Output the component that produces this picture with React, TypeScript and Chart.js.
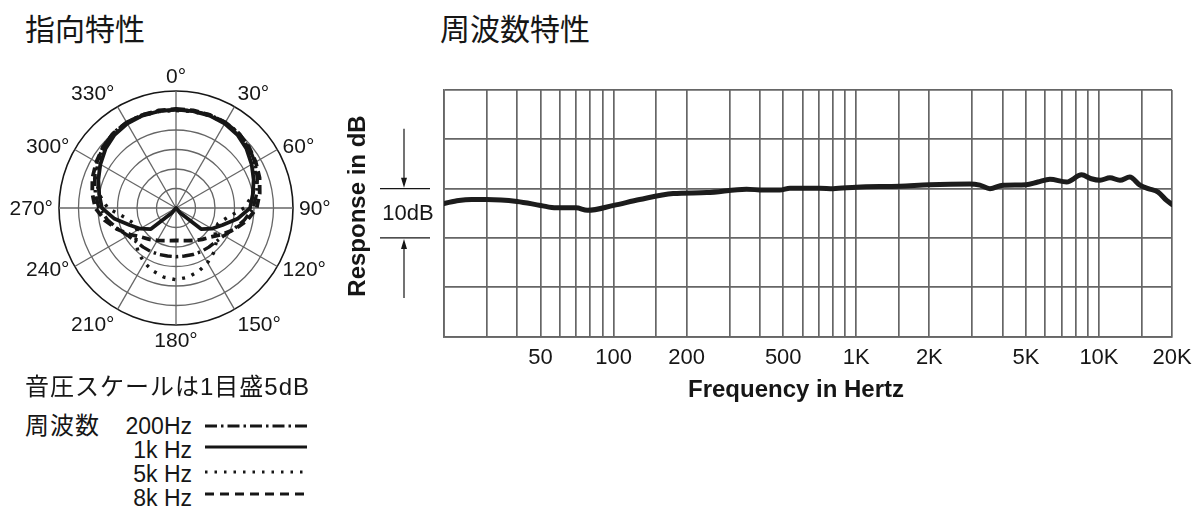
import React, { useEffect, useRef } from 'react';
import { Chart, registerables } from 'chart.js';

Chart.register(...registerables);

// ---------- Polar pattern data (radius in dB above the plot centre, 5 dB per ring) ----------
const polarAngles = [0, 10, 20, 30, 40, 50, 60, 70, 80, 90, 100, 110, 120, 130, 140, 150, 160, 170,
  180, 190, 200, 210, 220, 230, 240, 250, 260, 270, 280, 290, 300, 310, 320, 330, 340, 350];
const polarLabelAngles = [0, 30, 60, 90, 120, 150, 180, 210, 240, 270, 300, 330];

const polar1kHz = [25.2, 25.2, 25.2, 25.0, 24.5, 23.6, 22.4, 21.2, 20.0, 19.0, 16.0, 12.7, 10.6, 8.4, 1.6, 0, 0, 0,
  0, 0, 0, 0, 1.6, 8.4, 10.6, 12.7, 16.0, 19.0, 20.0, 21.2, 22.4, 23.6, 24.5, 25.0, 25.2, 25.2];
const polar8kHz = [25.4, 25.4, 25.4, 25.3, 25.0, 24.4, 23.6, 22.8, 21.8, 20.7, 18.5, 16.0, 13.6, 11.6, 10.5, 9.6, 8.9, 8.5,
  8.3, 8.5, 8.9, 9.6, 10.5, 11.6, 13.6, 16.0, 18.5, 20.7, 21.8, 22.8, 23.6, 24.4, 25.0, 25.3, 25.4, 25.4];
const polar200Hz = [25.2, 25.3, 25.4, 25.4, 25.1, 24.4, 23.4, 22.2, 21.0, 19.8, 17.8, 15.8, 14.2, 13.4, 13.1, 12.9, 12.7, 12.5,
  12.5, 12.5, 12.7, 12.9, 13.1, 13.4, 14.2, 15.8, 17.8, 19.8, 21.0, 22.2, 23.4, 24.4, 25.1, 25.4, 25.4, 25.3];
const polar5kHz = [25.0, 25.1, 25.2, 25.2, 24.9, 24.2, 23.2, 21.8, 20.0, 17.5, 13.5, 11.5, 11.5, 13.5, 15.0, 16.2, 17.2, 18.0,
  18.4, 18.0, 17.2, 16.2, 15.0, 13.5, 11.5, 11.5, 13.5, 17.5, 20.0, 21.8, 23.2, 24.2, 24.9, 25.2, 25.2, 25.1];

// ---------- Frequency response data ----------
const freqHz = [20, 23, 26, 30, 40, 50, 58, 70, 78, 100, 128, 176, 242, 353, 414, 484, 533, 708, 802, 1000,
  1514, 2000, 2938, 3230, 3554, 4020, 5000, 5600, 6280, 7360, 8480, 9300, 10100, 11100, 12200, 13400,
  14760, 15960, 17540, 19000, 20000];
const responseDb = [-3.0, -2.4, -2.2, -2.2, -2.6, -3.4, -3.9, -3.9, -4.4, -3.4, -2.2, -1.0, -0.8, -0.1, -0.3, -0.3, 0.1, 0.1, 0.0, 0.3,
  0.5, 0.8, 0.95, 0.7, 0.0, 0.7, 0.8, 1.35, 1.9, 1.35, 2.8, 2.0, 1.7, 2.2, 1.7, 2.35,
  0.7, 0.0, -0.7, -2.4, -3.2];
const freqGridHz = [20, 30, 40, 50, 60, 70, 80, 90, 100, 150, 200, 300, 400, 500, 600, 700, 800, 900,
  1000, 1500, 2000, 3000, 4000, 5000, 6000, 7000, 8000, 9000, 10000, 15000, 20000];
const freqTickValues = [50, 100, 200, 500, 1000, 2000, 5000, 10000, 20000];
const freqTickLabels = ['50', '100', '200', '500', '1K', '2K', '5K', '10K', '20K'];
const dbGridValues = [-30, -20, -10, 0, 10, 20];

const LATIN = '"Liberation Sans", Arial, Helvetica, sans-serif';
const MIXED = '"Liberation Sans", Arial, "Noto Sans CJK JP", sans-serif';
const CJK = '"Noto Sans CJK JP", "Noto Sans CJK SC", sans-serif';
const GRID = '#666666';
const INK = '#161616';

const polarLabelPlugin = {
  id: 'polarLabels',
  afterDraw(chart: any) {
    const scale = chart.scales.r;
    const ctx = chart.ctx;
    ctx.save();
    ctx.font = `21px ${LATIN}`;
    ctx.fillStyle = INK;
    polarLabelAngles.forEach((deg) => {
      const index = polarAngles.indexOf(deg);
      const p = scale.getPointPosition(index, scale.drawingArea + 6);
      let align: CanvasTextAlign = 'center';
      if (deg > 0 && deg < 180) align = 'left';
      else if (deg > 180) align = 'right';
      let base: CanvasTextBaseline = 'middle';
      if (deg === 0 || deg === 30 || deg === 330) base = 'bottom';
      else if (deg === 150 || deg === 180 || deg === 210) base = 'top';
      ctx.textAlign = align;
      ctx.textBaseline = base;
      ctx.fillText(`${deg}°`, p.x, p.y + (base === 'bottom' ? 3 : base === 'top' ? 0 : 1));
    });
    ctx.restore();
  },
};

const freqAnnotPlugin = {
  id: 'freqAnnot',
  afterDraw(chart: any) {
    const { ctx, chartArea } = chart;
    const y = chart.scales.y;
    const yTop = y.getPixelForValue(0);
    const yBot = y.getPixelForValue(-10);
    const ax = chartArea.left - 40;
    ctx.save();
    ctx.strokeStyle = INK;
    ctx.fillStyle = INK;
    ctx.lineWidth = 1.2;
    ctx.beginPath();
    ctx.moveTo(ax - 24, yTop); ctx.lineTo(ax + 26, yTop);
    ctx.moveTo(ax - 24, yBot); ctx.lineTo(ax + 26, yBot);
    ctx.moveTo(ax, yTop - 60); ctx.lineTo(ax, yTop - 8);
    ctx.moveTo(ax, yBot + 60); ctx.lineTo(ax, yBot + 8);
    ctx.stroke();
    ctx.beginPath();
    ctx.moveTo(ax, yTop - 1); ctx.lineTo(ax - 3, yTop - 11); ctx.lineTo(ax + 3, yTop - 11); ctx.closePath();
    ctx.moveTo(ax, yBot + 1); ctx.lineTo(ax - 3, yBot + 11); ctx.lineTo(ax + 3, yBot + 11); ctx.closePath();
    ctx.fill();
    ctx.font = `22px ${LATIN}`;
    ctx.textAlign = 'center';
    ctx.textBaseline = 'middle';
    ctx.fillText('10dB', ax + 4, (yTop + yBot) / 2 + 1);
    // axis titles
    ctx.font = `bold 24px ${LATIN}`;
    ctx.save();
    ctx.translate(chartArea.left - 86, chartArea.top + 116);
    ctx.rotate(-Math.PI / 2);
    ctx.fillText('Response in dB', 0, 0);
    ctx.restore();
    ctx.fillText('Frequency in Hertz', (chartArea.left + chartArea.right) / 2 - 12, chartArea.bottom + 54);
    ctx.restore();
  },
};

function PolarChart() {
  const ref = useRef<HTMLCanvasElement>(null);
  useEffect(() => {
    if (!ref.current) return;
    const common = { borderColor: INK, pointRadius: 0, fill: false, borderJoinStyle: 'round' as const };
    const chart = new Chart(ref.current, {
      type: 'radar',
      data: {
        labels: polarAngles,
        datasets: [
          { label: '1k Hz', data: polar1kHz, borderWidth: 3.8, ...common },
          { label: '8k Hz', data: polar8kHz, borderWidth: 3.8, borderDash: [9, 5], ...common },
          { label: '200Hz', data: polar200Hz, borderWidth: 3.4, borderDash: [12, 4, 2.5, 4], ...common },
          { label: '5k Hz', data: polar5kHz, borderWidth: 3.4, borderDash: [3, 7], ...common },
        ],
      },
      options: {
        responsive: false,
        animation: false,
        layout: { padding: 59 },
        plugins: { legend: { display: false }, tooltip: { enabled: false } },
        elements: { line: { tension: 0 } },
        scales: {
          r: {
            min: 0,
            max: 30,
            startAngle: 0,
            ticks: { display: false, stepSize: 5 },
            pointLabels: { display: false },
            grid: {
              circular: true,
              color: (c: any) => (c.tick && c.tick.value === 30 ? INK : GRID),
              lineWidth: (c: any) => (c.tick && c.tick.value === 30 ? 1.6 : 1.3),
            },
            angleLines: {
              color: GRID,
              lineWidth: (c: any) => (c.index % 3 === 0 ? 1.3 : 0),
            },
          },
        },
      } as any,
      plugins: [polarLabelPlugin],
    });
    return () => chart.destroy();
  }, []);
  return <canvas ref={ref} width={352} height={352} style={{ position: 'absolute', left: 0, top: 32 }} />;
}

function FreqChart() {
  const ref = useRef<HTMLCanvasElement>(null);
  useEffect(() => {
    if (!ref.current) return;
    const chart = new Chart(ref.current, {
      type: 'line',
      data: {
        datasets: [{
          data: freqHz.map((f, i) => ({ x: f, y: responseDb[i] })),
          borderColor: '#1c1c1c',
          borderWidth: 5,
          pointRadius: 0,
          fill: false,
          cubicInterpolationMode: 'monotone',
          borderCapStyle: 'round',
          borderJoinStyle: 'round',
        }],
      },
      options: {
        responsive: false,
        animation: false,
        layout: { padding: { left: 114, top: 30, right: 28, bottom: 41 } },
        plugins: { legend: { display: false }, tooltip: { enabled: false } },
        scales: {
          x: {
            type: 'logarithmic',
            min: 20,
            max: 20000,
            afterBuildTicks: (s: any) => { s.ticks = freqGridHz.map((v) => ({ value: v })); },
            ticks: {
              autoSkip: false,
              maxRotation: 0,
              minRotation: 0,
              padding: 8,
              color: INK,
              font: { size: 22, family: LATIN },
              callback: (v: any) => {
                const k = freqTickValues.indexOf(Number(v));
                return k >= 0 ? freqTickLabels[k] : '';
              },
            },
            grid: { color: GRID, lineWidth: 1.7, drawTicks: false },
            border: { color: GRID, width: 1.7 },
          },
          y: {
            type: 'linear',
            min: -30,
            max: 20,
            afterBuildTicks: (s: any) => { s.ticks = dbGridValues.map((v) => ({ value: v })); },
            ticks: { display: false },
            grid: { color: GRID, lineWidth: 1.7, drawTicks: false },
            border: { color: GRID, width: 1.7 },
          },
        },
      } as any,
      plugins: [freqAnnotPlugin],
    });
    return () => chart.destroy();
  }, []);
  return <canvas ref={ref} width={870} height={360} style={{ position: 'absolute', left: 330, top: 60 }} />;
}

function LegendLine({ y, dash, width }: { y: number; dash?: string; width: number }) {
  return (
    <svg width={110} height={12} style={{ position: 'absolute', left: 202, top: y - 6 }}>
      <line x1={3} y1={6} x2={105} y2={6} stroke={INK} strokeWidth={width} strokeDasharray={dash} />
    </svg>
  );
}

const textBase: React.CSSProperties = { position: 'absolute', whiteSpace: 'nowrap', color: INK, lineHeight: 1 };

export default function App() {
  return (
    <div style={{ position: 'fixed', left: 0, top: 0, width: 1200, height: 510, background: '#fff', overflow: 'hidden' }}>
      <div style={{ ...textBase, left: 25, top: 12, fontSize: 30, fontFamily: CJK }}>指向特性</div>
      <div style={{ ...textBase, left: 440, top: 12, fontSize: 30, fontFamily: CJK }}>周波数特性</div>
      <PolarChart />
      <FreqChart />
      <div style={{ ...textBase, left: 25, top: 375, fontSize: 24, letterSpacing: 1, fontFamily: MIXED }}>音圧スケールは1目盛5dB</div>
      <div style={{ ...textBase, left: 25, top: 414, fontSize: 24, letterSpacing: 1, fontFamily: MIXED }}>周波数</div>
      <div style={{ ...textBase, right: 1200 - 192, top: 415, fontSize: 23, fontFamily: LATIN }}>200Hz</div>
      <div style={{ ...textBase, right: 1200 - 192, top: 439, fontSize: 23, fontFamily: LATIN }}>1k Hz</div>
      <div style={{ ...textBase, right: 1200 - 192, top: 463, fontSize: 23, fontFamily: LATIN }}>5k Hz</div>
      <div style={{ ...textBase, right: 1200 - 192, top: 487, fontSize: 23, fontFamily: LATIN }}>8k Hz</div>
      <LegendLine y={426} width={3} dash="12 4 2.5 4" />
      <LegendLine y={447} width={3} />
      <LegendLine y={472} width={3} dash="2.5 7" />
      <LegendLine y={494} width={3} dash="9 6" />
    </div>
  );
}
